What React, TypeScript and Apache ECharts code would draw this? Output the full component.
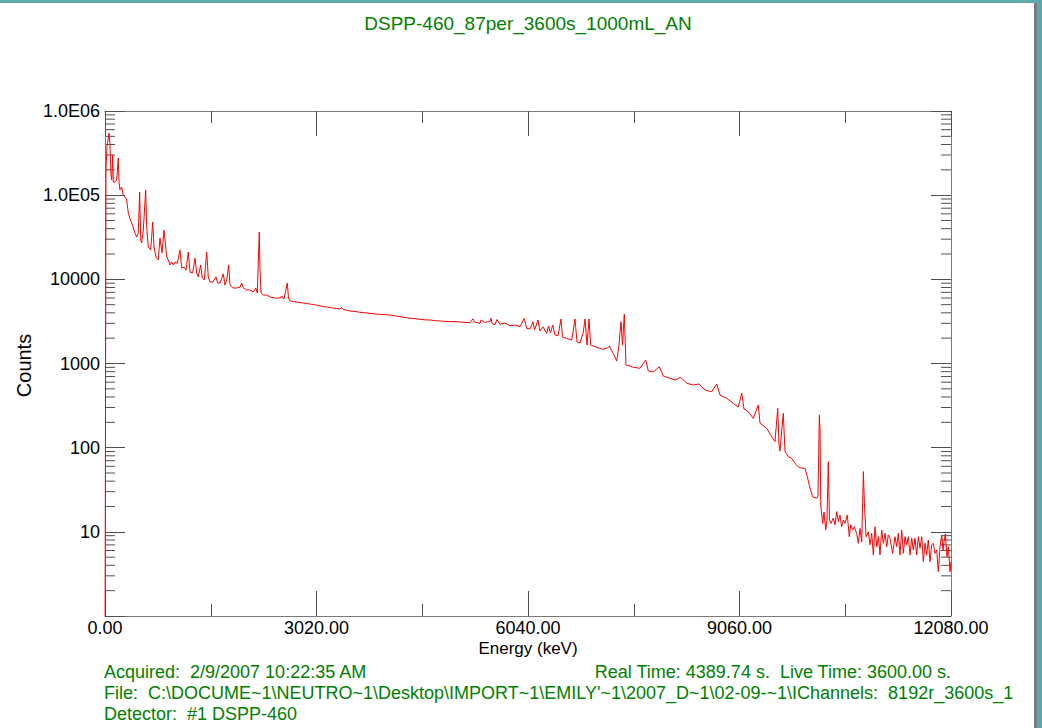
import React, { useEffect, useRef } from 'react';
import * as echarts from 'echarts';

// Spectrum: energy (keV) and counts
const energyKeV = [
  0, 14, 29, 43, 57, 71, 86, 96, 110, 119, 143, 167, 190, 200, 214, 238, 261, 286, 310, 333,
  357, 381, 405, 428, 453, 475, 495, 510, 524, 547, 581, 595, 618, 653, 681, 700, 728, 761, 785, 814,
  842, 861, 881, 904, 928, 952, 975, 1000, 1032, 1071, 1095, 1128, 1157, 1189, 1214, 1252, 1285, 1309, 1332, 1366,
  1389, 1418, 1452, 1475, 1499, 1542, 1585, 1609, 1642, 1689, 1713, 1738, 1766, 1785, 1832, 1881, 1928, 1952, 1975, 2023,
  2070, 2118, 2152, 2175, 2203, 2213, 2228, 2260, 2309, 2356, 2427, 2499, 2523, 2556, 2603, 2620, 2642, 2690, 2737, 2785,
  2832, 2880, 2927, 2975, 3023, 3070, 3117, 3165, 3213, 3260, 3308, 3355, 3380, 3403, 3450, 3498, 3570, 3641, 3710, 3784, 3855,
  3927, 4000, 4070, 4140, 4212, 4285, 4355, 4425, 4498, 4570, 4641, 4710, 4784, 4855, 4926, 5000, 5069, 5140, 5212, 5255, 5280,
  5355, 5369, 5420, 5497, 5512, 5530, 5569, 5597, 5640, 5710, 5783, 5854, 5926, 5987, 6021, 6069, 6111, 6133, 6183, 6211, 6254, 6307,
  6333, 6361, 6393, 6426, 6468, 6511, 6533, 6592, 6664, 6711, 6740, 6783, 6830, 6854, 6883, 6911, 6935, 7021, 7115, 7168,
  7201, 7258, 7307, 7339, 7368, 7390, 7415, 7439, 7497, 7544, 7639, 7721, 7758, 7829, 7915, 7972, 8068, 8139, 8221, 8306,
  8401, 8482, 8567, 8663, 8735, 8782, 8877, 8972, 9043, 9092, 9124, 9186, 9257, 9328, 9353, 9449, 9520, 9567, 9606, 9624,
  9638, 9685, 9710, 9757, 9806, 9853, 9900, 9948, 9995, 10028, 10067, 10105, 10162, 10181, 10200, 10210, 10220, 10248, 10267, 10291,
  10309, 10328, 10345, 10366, 10399, 10424, 10448, 10471, 10495, 10519, 10542, 10566, 10599, 10628, 10648, 10676, 10699, 10733, 10757, 10781,
  10805, 10829, 10843, 10867, 10900, 10924, 10948, 10971, 10995, 11019, 11043, 11066, 11090, 11114, 11138, 11162, 11185, 11209, 11247, 11281,
  11304, 11328, 11352, 11376, 11399, 11423, 11447, 11471, 11495, 11519, 11542, 11566, 11590, 11614, 11638, 11662, 11685, 11709, 11733, 11756,
  11780, 11804, 11827, 11852, 11876, 11899, 11923, 11947, 11966, 11980, 11999, 12023, 12042, 12066, 12080,
];

const counts = [
  0.3, 199000, 394000, 452000, 547000, 394000, 173000, 151000, 300000, 143000, 143000, 151000, 276000, 143000, 115000, 125000, 100000, 95000, 87500, 61400,
  52500, 46700, 40700, 35500, 31800, 35500, 109000, 29300, 27000, 38500, 115000, 41900, 24200, 22300, 48000, 24200, 18400, 17000, 31000, 20600,
  38500, 27000, 18400, 17000, 14800, 16100, 14800, 16100, 15500, 22300, 13600, 14000, 12900, 21100, 12200, 11900, 17900, 11900, 10700, 14800,
  10400, 9800, 21100, 10700, 9300, 9300, 10700, 9040, 9040, 11600, 8560, 9800, 14800, 8560, 7890, 7890, 8100, 9040, 7890, 7470,
  7470, 7070, 7890, 6880, 36500, 12900, 6880, 6510, 6510, 6170, 6000, 6000, 6340, 5840, 9040, 6000, 5530, 5450, 5370, 5300,
  5230, 5150, 5090, 5000, 4960, 4850, 4730, 4700, 4630, 4560, 4500, 4450, 4600, 4380, 4300, 4200, 4150, 4060, 4010, 3950, 3880,
  3840, 3800, 3770, 3680, 3600, 3520, 3440, 3420, 3350, 3300, 3290, 3230, 3200, 3170, 3140, 3150, 3110, 3080, 3050, 3390, 3100,
  3000, 3290, 3080, 3160, 3440, 2950, 2900, 3330, 2920, 3020, 2810, 2860, 2740, 3440, 2620, 2570, 3140, 2500, 3290, 2430, 2720, 2280,
  2790, 2300, 2860, 2180, 2130, 3380, 2060, 1990, 1900, 3380, 1800, 1750, 2370, 3380, 1660, 3380, 1660, 1560, 1470, 1520,
  1610, 1320, 1070, 1660, 3140, 1660, 3870, 962, 935, 902, 877, 1100, 815, 792, 916, 710, 667, 637, 685, 582,
  555, 571, 484, 462, 571, 422, 386, 336, 304, 446, 288, 267, 223, 321, 195, 170, 135, 118, 294, 108,
  91, 256, 90, 78, 75, 65, 59, 57, 57, 45, 33, 26, 25, 26.6, 244, 162, 20.8, 12.6, 17.2, 10.5,
  13.8, 68, 13.8, 12.6, 14.6, 12.1, 17.4, 13.2, 15.8, 11.5, 13.8, 12.6, 15.8, 8.75, 12.1, 10.5, 11.5, 9.6, 7.3, 11.0,
  7.6, 52, 22, 8.75, 10.0, 7.0, 9.6, 5.3, 11.5, 6.66, 8.75, 5.3, 10.5, 7.3, 9.6, 6.66, 9.2, 8.4, 5.56, 8.75,
  6.66, 9.6, 5.3, 10.5, 5.56, 8.75, 7.0, 8.75, 5.3, 8.4, 6.08, 8.4, 5.3, 8.75, 6.37, 8.75, 4.42, 7.3, 5.3, 8.0,
  4.42, 7.0, 7.3, 5.56, 6.08, 3.36, 6.66, 9.2, 6.08, 7.6, 9.4, 5.07, 6.66, 3.36, 4.42,
];

const yTickExponents = [0, 1, 2, 3, 4, 5, 6];
const yTickLabels = ['', '10', '100', '1000', '10000', '1.0E05', '1.0E06'];
const yMinorMultipliers = [2, 3, 4, 5, 6, 7, 8, 9];

const titleText = 'DSPP-460_87per_3600s_1000mL_AN';
const xAxisTitle = 'Energy (keV)';
const yAxisTitle = 'Counts';
const footerAcquired = 'Acquired:  2/9/2007 10:22:35 AM';
const footerTimes = 'Real Time: 4389.74 s.  Live Time: 3600.00 s.';
const footerFile = "File:  C:\\DOCUME~1\\NEUTRO~1\\Desktop\\IMPORT~1\\EMILY'~1\\2007_D~1\\02-09-~1\\IChannels:  8192r_3600s_1";
const footerDetector = 'Detector:  #1 DSPP-460';

const FONT = '"Liberation Sans", Arial, sans-serif';
const GREEN = '#008000';
const AXIS_COLOR = '#7a7a7a';
const TICK_COLOR = '#505050';
const TEAL = '#5ea7ab';

export default function App() {
  const ref = useRef<HTMLDivElement>(null);

  useEffect(() => {
    if (!ref.current) return;
    const chart = echarts.init(ref.current, null, { renderer: 'svg' });
    const data = energyKeV.map((e, i) => [e, counts[i]]);

    const xCommon: any = {
      type: 'value',
      min: 0,
      max: 12080,
      interval: 3020,
      axisLine: { show: true, onZero: false, lineStyle: { color: AXIS_COLOR, width: 1 } },
      axisTick: { show: true, inside: true, length: 25, lineStyle: { color: TICK_COLOR, width: 1 } },
      minorTick: { show: true, splitNumber: 2, length: 12, lineStyle: { color: TICK_COLOR, width: 1 } },
      splitLine: { show: false },
      minorSplitLine: { show: false },
    };
    const yCommon: any = {
      type: 'log',
      logBase: 10,
      min: 1,
      max: 1e6,
      axisLine: { show: true, onZero: false, lineStyle: { color: AXIS_COLOR, width: 1 } },
      axisTick: { show: true, inside: true, length: 20, lineStyle: { color: TICK_COLOR, width: 1 } },
      splitLine: { show: false },
    };

    chart.setOption({
      animation: false,
      backgroundColor: '#ffffff',
      grid: { left: 105, right: 91, top: 111, bottom: 112, containLabel: false, outerBoundsMode: 'none' },
      xAxis: [
        {
          ...xCommon,
          position: 'bottom',
          axisLabel: {
            show: true,
            margin: 3,
            color: '#000',
            fontSize: 18,
            fontFamily: FONT,
            formatter: (v: number) => v.toFixed(2),
          },
        },
        { ...xCommon, position: 'top', axisLabel: { show: false } },
      ],
      yAxis: [
        {
          ...yCommon,
          position: 'left',
          axisLabel: {
            show: true,
            margin: 5,
            color: '#000',
            fontSize: 18,
            fontFamily: FONT,
            formatter: (v: number) => {
              const idx = yTickExponents.indexOf(Math.round(Math.log10(v)));
              return idx >= 0 ? yTickLabels[idx] : '';
            },
          },
        },
        { ...yCommon, position: 'right', axisLabel: { show: false } },
      ],
      series: [
        {
          type: 'line',
          data,
          xAxisIndex: 0,
          yAxisIndex: 0,
          showSymbol: false,
          symbol: 'none',
          clip: true,
          silent: true,
          lineStyle: { color: '#ff0000', width: 1 },
        },
      ],
    });

    const graphics: any[] = [];
    // log minor ticks on left and right from the axis scale
    const x0 = chart.convertToPixel({ xAxisIndex: 0 }, 0) as number;
    const x1 = chart.convertToPixel({ xAxisIndex: 0 }, 12080) as number;
    for (let k = 0; k < 6; k++) {
      for (const m of yMinorMultipliers) {
        const y = chart.convertToPixel({ yAxisIndex: 0 }, m * Math.pow(10, k)) as number;
        graphics.push({
          type: 'line',
          silent: true,
          shape: { x1: x0, y1: y, x2: x0 + 10, y2: y },
          style: { stroke: TICK_COLOR, lineWidth: 1 },
        });
        graphics.push({
          type: 'line',
          silent: true,
          shape: { x1: x1 - 10, y1: y, x2: x1, y2: y },
          style: { stroke: TICK_COLOR, lineWidth: 1 },
        });
      }
    }
    const txt = (text: string, x: number, y: number, opts: any = {}) => ({
      type: 'text',
      x,
      y,
      rotation: opts.rotation || 0,
      silent: true,
      style: {
        text,
        fill: opts.fill || '#000',
        fontSize: opts.fontSize || 18,
        fontFamily: FONT,
        align: opts.align || 'left',
        verticalAlign: 'middle',
      },
    });
    graphics.push(txt(titleText, 528, 23.5, { fill: GREEN, fontSize: 19, align: 'center' }));
    graphics.push(txt(xAxisTitle, 528, 648, { fontSize: 17, align: 'center' }));
    graphics.push(txt(yAxisTitle, 23.5, 365.5, { fontSize: 20, align: 'center', rotation: Math.PI / 2 }));
    graphics.push(txt(footerAcquired, 104, 671.5, { fill: GREEN }));
    graphics.push(txt(footerTimes, 951, 671.5, { fill: GREEN, align: 'right' }));
    graphics.push(txt(footerFile, 104, 693, { fill: GREEN }));
    graphics.push(txt(footerDetector, 104, 714, { fill: GREEN }));
    // window frame
    graphics.push({ type: 'rect', silent: true, shape: { x: 1034, y: 0, width: 8, height: 728 }, style: { fill: '#ffffff' } });
    graphics.push({ type: 'rect', silent: true, shape: { x: 1034, y: 0, width: 3, height: 728 }, style: { fill: '#7b7b7b' } });
    graphics.push({ type: 'rect', silent: true, shape: { x: 1037, y: 0, width: 5, height: 728 }, style: { fill: TEAL } });
    graphics.push({ type: 'rect', silent: true, shape: { x: 0, y: 0, width: 1042, height: 3 }, style: { fill: TEAL } });

    chart.setOption({ graphic: graphics });

    return () => {
      chart.dispose();
    };
  }, []);

  return (
    <div
      ref={ref}
      style={{ position: 'fixed', left: 0, top: 0, width: 1042, height: 728, background: '#ffffff' }}
    />
  );
}
